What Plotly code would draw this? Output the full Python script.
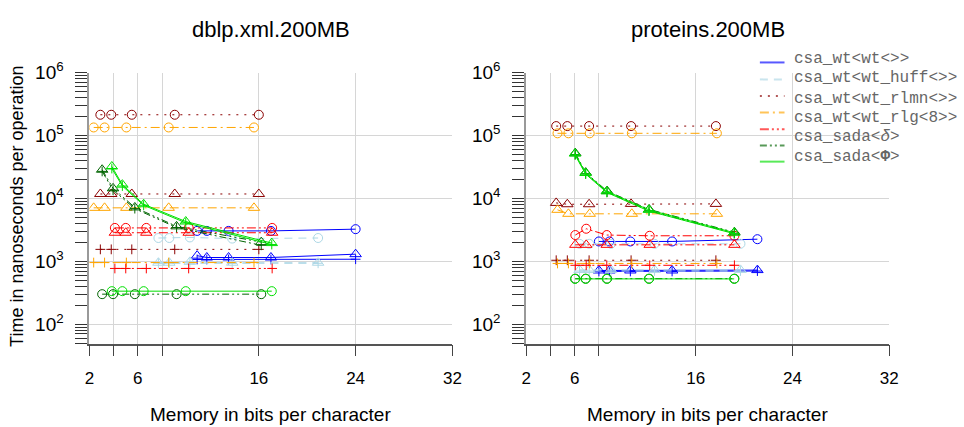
import math
import plotly.graph_objects as go

# ---- data -------------------------------------------------------------
# Series order: blue, lightblue, darkred, orange, red, darkgreen, green
series_colors = ["#0000FF", "#ADD8E6", "#8B0000", "#FFA500", "#FF0000", "#006400", "#00E000"]
series_dash = ["solid", "8px,6px", "2px,6px", "9px,4px,2px,4px",
               "9px,3px,2px,3px,2px,3px", "7px,3px,2px,3px,2px,3px", "solid"]
legend_labels = ["csa_wt<wt<>>", "csa_wt<wt_huff<>>", "csa_wt<wt_rlmn<>>",
                 "csa_wt<wt_rlg<8>>", "csa_sada<<i>δ</i>>", "csa_sada<<b>Φ</b>>"]

panel_titles = ["dblp.xml.200MB", "proteins.200MB"]
x_ticks = [2, 4, 6, 8, 16, 24, 32]
x_tick_labels = ["2", "", "6", "", "16", "24", "32"]
y_ticks = [1e2, 1e3, 1e4, 1e5, 1e6]
y_tick_labels = ["10<sup>2</sup>", "10<sup>3</sup>", "10<sup>4</sup>", "10<sup>5</sup>", "10<sup>6</sup>"]

# dblp.xml.200MB: memory (bits per character) per series
dblp_bpc = [
    [10.9, 11.7, 13.5, 17.0, 24.0],
    [7.7, 8.6, 10.3, 13.8, 20.9],
    [2.9, 3.8, 5.5, 9.05, 16.0],
    [2.35, 3.25, 5.05, 8.55, 15.6],
    [4.1, 5.0, 6.7, 10.2, 17.1],
    [3.05, 3.95, 5.75, 9.2, 16.2],
    [3.85, 4.72, 6.48, 9.96, 17.07],
]
# time in ns per operation, one list per marker kind
dblp_circle = [
    [3050, 3050, 3050, 3050, 3250],
    [2350, 2350, 2400, 2300, 2350],
    [215000, 215000, 215000, 215000, 215000],
    [135000, 135000, 135000, 135000, 135000],
    [3400, 3400, 3400, 3400, 3400],
    [300, 300, 300, 300, 300],
    [335, 335, 335, 335, 335],
]
dblp_triangle = [
    [1230, 1150, 1150, 1150, 1300],
    [950, 950, 980, 950, 950],
    [11800, 11800, 11800, 11800, 11800],
    [7100, 7100, 7100, 7100, 7100],
    [2850, 2850, 2850, 2850, 2850],
    [28700, 14500, 7200, 3600, 2020],
    [32300, 16600, 8100, 4300, 1950],
]
dblp_plus = [
    [1070, 1070, 1070, 1070, 1080],
    [930, 930, 950, 930, 930],
    [1550, 1550, 1550, 1550, 1550],
    [955, 955, 955, 955, 955],
    [770, 770, 770, 770, 770],
    [27000, 13600, 6900, 3450, 1800],
    [30000, 15800, 7800, 4100, 1850],
]

# proteins.200MB
prot_bpc = [
    [8.0, 8.87, 10.6, 14.05, 21.1],
    [6.4, 7.2, 9.0, 12.6, 19.7],
    [4.47, 5.39, 7.19, 10.66, 17.67],
    [4.58, 5.48, 7.24, 10.72, 17.75],
    [6.05, 6.95, 8.65, 12.2, 19.2],
    [6.05, 6.91, 8.68, 12.15, 19.2],
    [6.02, 6.9, 8.65, 12.13, 19.18],
]
prot_circle = [
    [2070, 2070, 2070, 2070, 2250],
    [1900, 1900, 1900, 1900, 1900],
    [142000, 142000, 142000, 142000, 142000],
    [109000, 109000, 109000, 109000, 109000],
    [2620, 3300, 2620, 2550, 2550],
    [530, 530, 530, 530, 530],
    [525, 525, 525, 525, 525],
]
prot_triangle = [
    [715, 715, 715, 715, 725],
    [730, 730, 730, 730, 730],
    [8500, 8100, 8100, 8200, 8200],
    [6600, 5700, 5700, 5700, 5700],
    [1830, 1830, 1830, 1830, 1830],
    [52500, 25800, 13100, 6700, 2900],
    [51900, 25500, 13000, 6600, 2850],
]
prot_plus = [
    [690, 690, 690, 690, 700],
    [700, 700, 700, 700, 700],
    [1040, 1040, 1040, 1040, 1040],
    [925, 925, 925, 925, 925],
    [865, 865, 865, 865, 865],
    [50000, 24800, 12600, 6400, 2800],
    [49500, 24500, 12500, 6300, 2750],
]

# ---- figure geometry (pixels) -----------------------------------------
W, H = 964, 427
plot_left = [85.7, 529.0]
plot_right = [454.0, 897.3]
plot_top, plot_bottom = 61.7, 341.0
y_low = 49.0


def px_x(p):
    return p / W


def px_y(p):
    return 1 - p / H


marker_kinds = [("circle-open", 9), ("triangle-up-open", 10), ("cross-thin-open", 7)]
panels = [
    (dblp_bpc, [dblp_circle, dblp_triangle, dblp_plus]),
    (prot_bpc, [prot_circle, prot_triangle, prot_plus]),
]

fig = go.Figure()
for p, (bpc, kinds) in enumerate(panels):
    xa = "x" if p == 0 else "x2"
    ya = "y" if p == 0 else "y2"
    for s in range(len(series_colors)):
        for k, (sym, size) in enumerate(marker_kinds):
            fig.add_trace(go.Scatter(
                x=bpc[s], y=kinds[k][s], xaxis=xa, yaxis=ya,
                mode="lines+markers", showlegend=False, hoverinfo="skip",
                line=dict(color=series_colors[s], width=1, dash=series_dash[s]),
                marker=dict(symbol=sym, size=size, color=series_colors[s],
                            line=dict(color=series_colors[s], width=1)),
            ))

minor_vals = [m * 10 ** e for e in range(1, 6) for m in range(2, 10) if m * 10 ** e >= y_low]

xaxis_common = dict(
    range=[2, 32], tickmode="array", tickvals=x_ticks, ticktext=x_tick_labels,
    showgrid=True, gridcolor="#D6D6D6", gridwidth=1, zeroline=False,
    showline=True, linecolor="#555555", linewidth=1.5,
    ticks="outside", ticklen=11, tickcolor="#444444", tickwidth=1,
    tickfont=dict(family="Liberation Sans", size=17, color="black"),
    ticklabelstandoff=7,
)
yaxis_common = dict(
    type="log", range=[math.log10(y_low), 6], tickmode="array",
    tickvals=y_ticks, ticktext=y_tick_labels,
    showgrid=True, gridcolor="#D6D6D6", gridwidth=1, zeroline=False,
    showline=True, linecolor="#999999", linewidth=2,
    ticks="outside", ticklen=12, tickcolor="#333333", tickwidth=1,
    tickfont=dict(family="Liberation Sans", size=19, color="black"),
    ticklabelstandoff=8,
    minor=dict(tickmode="array", tickvals=minor_vals, ticks="outside", ticklen=12,
               tickcolor="#333333", tickwidth=1, showgrid=False),
)

dom_y = [px_y(plot_bottom), px_y(plot_top)]
fig.update_layout(
    width=W, height=H, autosize=False,
    margin=dict(l=0, r=0, t=0, b=0),
    paper_bgcolor="white", plot_bgcolor="white",
    showlegend=False,
    xaxis=dict(domain=[px_x(plot_left[0]), px_x(plot_right[0])], anchor="y", **xaxis_common),
    xaxis2=dict(domain=[px_x(plot_left[1]), px_x(plot_right[1])], anchor="y2", **xaxis_common),
    yaxis=dict(domain=dom_y, anchor="x", **yaxis_common),
    yaxis2=dict(domain=dom_y, anchor="x2", **yaxis_common),
)

annotations = []
for p in range(2):
    cx = (plot_left[p] + plot_right[p]) / 2
    annotations.append(dict(
        text=panel_titles[p], x=px_x(cx), y=px_y(17), xref="paper", yref="paper",
        showarrow=False, xanchor="center", yanchor="middle",
        font=dict(family="Liberation Sans", size=22, color="black")))
    annotations.append(dict(
        text="Memory in bits per character", x=px_x(cx), y=px_y(414),
        xref="paper", yref="paper", showarrow=False, xanchor="center", yanchor="middle",
        font=dict(family="Liberation Sans", size=19, color="black")))
# y-axis title sits flush against the left edge of the page
annotations.append(dict(
    text="Time in nanoseconds per operation", x=0, y=px_y(199),
    xref="paper", yref="paper", showarrow=False, textangle=-90,
    xanchor="left", yanchor="middle",
    font=dict(family="Liberation Sans", size=18, color="black")))

# legend: line samples and labels
legend_line_y = [51, 68.5, 85.7, 102.5, 120, 136.7, 153.3]
legend_text_y = [47.5, 67.5, 88.3, 108.5, 128.3, 148.3]
shapes = []
for s, ly in enumerate(legend_line_y):
    shapes.append(dict(
        type="line", xref="paper", yref="paper",
        x0=px_x(766), x1=px_x(791), y0=px_y(ly), y1=px_y(ly),
        line=dict(color=series_colors[s], width=2, dash=series_dash[s]),
        opacity=0.65))
for label, ty in zip(legend_labels, legend_text_y):
    annotations.append(dict(
        text=label, x=px_x(799), y=px_y(ty), xref="paper", yref="paper",
        showarrow=False, xanchor="left", yanchor="middle",
        font=dict(family="Liberation Mono", size=16, color="#666666")))

fig.update_layout(annotations=annotations, shapes=shapes)
fig.write_html("out.html", post_script="document.body.style.margin='0px';")
